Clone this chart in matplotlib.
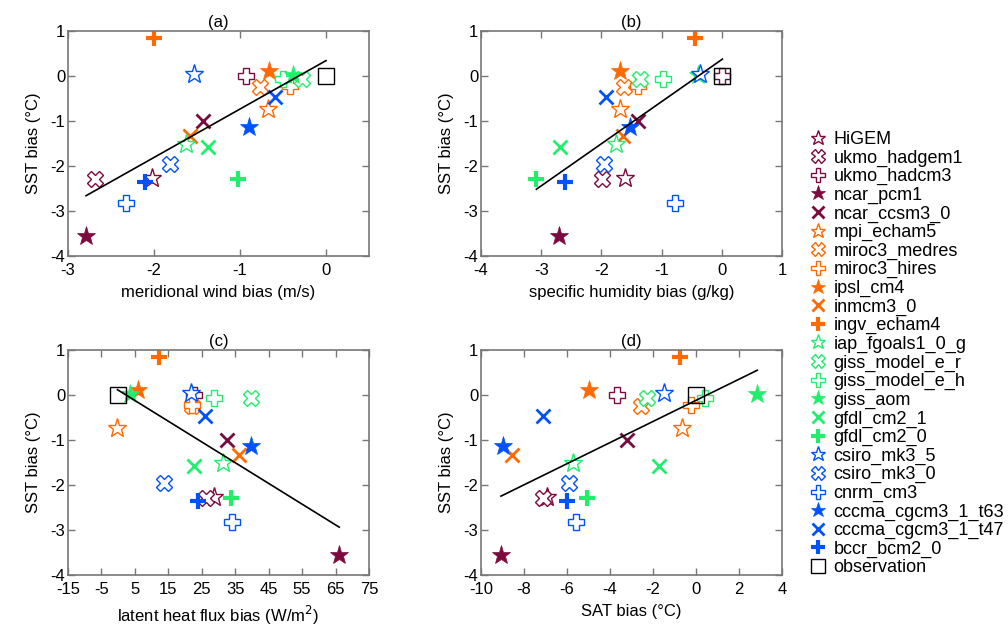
import matplotlib
matplotlib.use('Agg')
import matplotlib.pyplot as plt
import numpy as np

plt.rcParams['font.family'] = ['Liberation Sans', 'DejaVu Sans']
plt.rcParams['axes.unicode_minus'] = False

# model names (legend order)
models = ['HiGEM', 'ukmo_hadgem1', 'ukmo_hadcm3', 'ncar_pcm1', 'ncar_ccsm3_0',
          'mpi_echam5', 'miroc3_medres', 'miroc3_hires', 'ipsl_cm4', 'inmcm3_0', 'ingv_echam4',
          'iap_fgoals1_0_g', 'giss_model_e_r', 'giss_model_e_h', 'giss_aom', 'gfdl_cm2_1', 'gfdl_cm2_0',
          'csiro_mk3_5', 'csiro_mk3_0', 'cnrm_cm3', 'cccma_cgcm3_1_t63', 'cccma_cgcm3_1_t47', 'bccr_bcm2_0']

# SST bias (deg C), shared y of every panel
sst_bias = [-2.26, -2.29, -0.01, -3.56, -1.00,
            -0.74, -0.24, -0.22, 0.12, -1.33, 0.85,
            -1.52, -0.07, -0.07, 0.02, -1.57, -2.29,
            0.05, -1.96, -2.82, -1.13, -0.47, -2.35]

# x values of the four panels
vwind_bias = [-2.02, -2.69, -0.93, -2.79, -1.43,
              -0.67, -0.77, -0.42, -0.66, -1.58, -2.00,
              -1.63, -0.28, -0.50, -0.38, -1.37, -1.02,
              -1.54, -1.81, -2.33, -0.90, -0.59, -2.10]
qhum_bias = [-1.60, -1.99, 0.01, -2.71, -1.39,
             -1.69, -1.62, -1.39, -1.69, -1.64, -0.45,
             -1.75, -1.36, -0.98, -0.40, -2.68, -3.08,
             -0.36, -1.96, -0.78, -1.52, -1.93, -2.60]
lhf_bias = [28.8, 26.4, 22.6, 66.1, 32.6,
            -0.2, 22.1, 22.1, 5.8, 36.1, 12.3,
            31.4, 39.8, 28.6, 3.6, 22.6, 33.6,
            21.9, 13.6, 34.1, 39.8, 26.1, 23.8]
sat_bias = [-6.94, -7.13, -3.66, -9.07, -3.19,
            -0.67, -2.57, -0.25, -4.98, -8.57, -0.74,
            -5.70, -2.26, 0.42, 2.85, -1.71, -5.08,
            -1.47, -5.89, -5.58, -8.96, -7.13, -6.01]

obs_x = 0.0
obs_y = 0.0

# colour groups and marker cycle
c_maroon = '#7d0a3e'
c_orange = '#ff6a00'
c_green = '#22ee6e'
c_blue = '#0052ff'
colors = [c_maroon] * 5 + [c_orange] * 6 + [c_green] * 6 + [c_blue] * 6
kinds = ['ostar', 'oX', 'oplus', 'star', 'x', 'plus']
model_kinds = kinds[:5] + kinds * 3

def marker_kw(kind, col):
    if kind == 'ostar':
        return dict(marker='*', ms=14, mfc='white', mec=col, mew=1.0)
    if kind == 'oX':
        return dict(marker='X', ms=12, mfc='white', mec=col, mew=1.0)
    if kind == 'oplus':
        return dict(marker='P', ms=12, mfc='white', mec=col, mew=1.0)
    if kind == 'star':
        return dict(marker='*', ms=14, mfc=col, mec=col, mew=0.5)
    if kind == 'x':
        return dict(marker='x', ms=10, mec=col, mew=2.0)
    return dict(marker='+', ms=12, mec=col, mew=3.0)

fig = plt.figure(figsize=(10.08, 6.28), dpi=100)
W, H = 1008.0, 628.0
boxes = [(68, 31), (481, 31), (68, 350), (481, 350)]
aw, ah = 301, 225

panels = [
    (vwind_bias, 'meridional wind bias (m/s)', (-3, 0.5), [-3, -2, -1, 0], '(a)'),
    (qhum_bias, 'specific humidity bias (g/kg)', (-4, 1), [-4, -3, -2, -1, 0, 1], '(b)'),
    (lhf_bias, 'latent heat flux bias (W/m$^2$)', (-15, 75), list(range(-15, 76, 10)), '(c)'),
    (sat_bias, 'SAT bias (\u00b0C)', (-10, 4), list(range(-10, 5, 2)), '(d)'),
]

handles = []
for i, (xv, xlabel, xlim, xticks, title) in enumerate(panels):
    left, top = boxes[i]
    ax = fig.add_axes([left / W, (H - top - ah) / H, aw / W, ah / H])
    for j in range(len(models)):
        h, = ax.plot(xv[j], sst_bias[j], linestyle='none', label=models[j],
                     **marker_kw(model_kinds[j], colors[j]))
        if i == 0:
            handles.append(h)
    ho, = ax.plot(obs_x, obs_y, linestyle='none', marker='s', ms=12, mfc='none',
                  mec='black', mew=1.0, label='observation')
    if i == 0:
        handles.append(ho)

    # least squares fit over the models, drawn across the full data range
    xx = np.array(xv)
    yy = np.array(sst_bias)
    p = np.polyfit(xx, yy, 1)
    xs = np.array([min(xx.min(), obs_x), max(xx.max(), obs_x)])
    ax.plot(xs, np.polyval(p, xs), color='black', lw=1.2)

    ax.set_xlim(*xlim)
    ax.set_ylim(-4, 1)
    ax.set_xticks(xticks)
    ax.set_yticks([-4, -3, -2, -1, 0, 1])
    ax.tick_params(direction='in', top=True, right=True, length=5, width=1,
                   color='#777777', labelsize=12)
    ax.tick_params(axis='x', pad=5)
    ax.tick_params(axis='y', pad=2)
    for s in ax.spines.values():
        s.set_color('#777777')
        s.set_linewidth(1.2)
    ax.set_xlabel(xlabel, fontsize=12, labelpad=5)
    ax.set_ylabel('SST bias (\u00b0C)', fontsize=12, labelpad=7)
    ax.set_title(title, fontsize=12, pad=3)

fig.legend(handles=handles, labels=models + ['observation'], loc='upper left',
           bbox_to_anchor=(800 / W, 1 - 122 / H), frameon=False, fontsize=13,
           handlelength=1.0, handletextpad=0.35, labelspacing=0.08, borderpad=0,
           markerscale=0.8)

fig.savefig('out.png', dpi=100)
